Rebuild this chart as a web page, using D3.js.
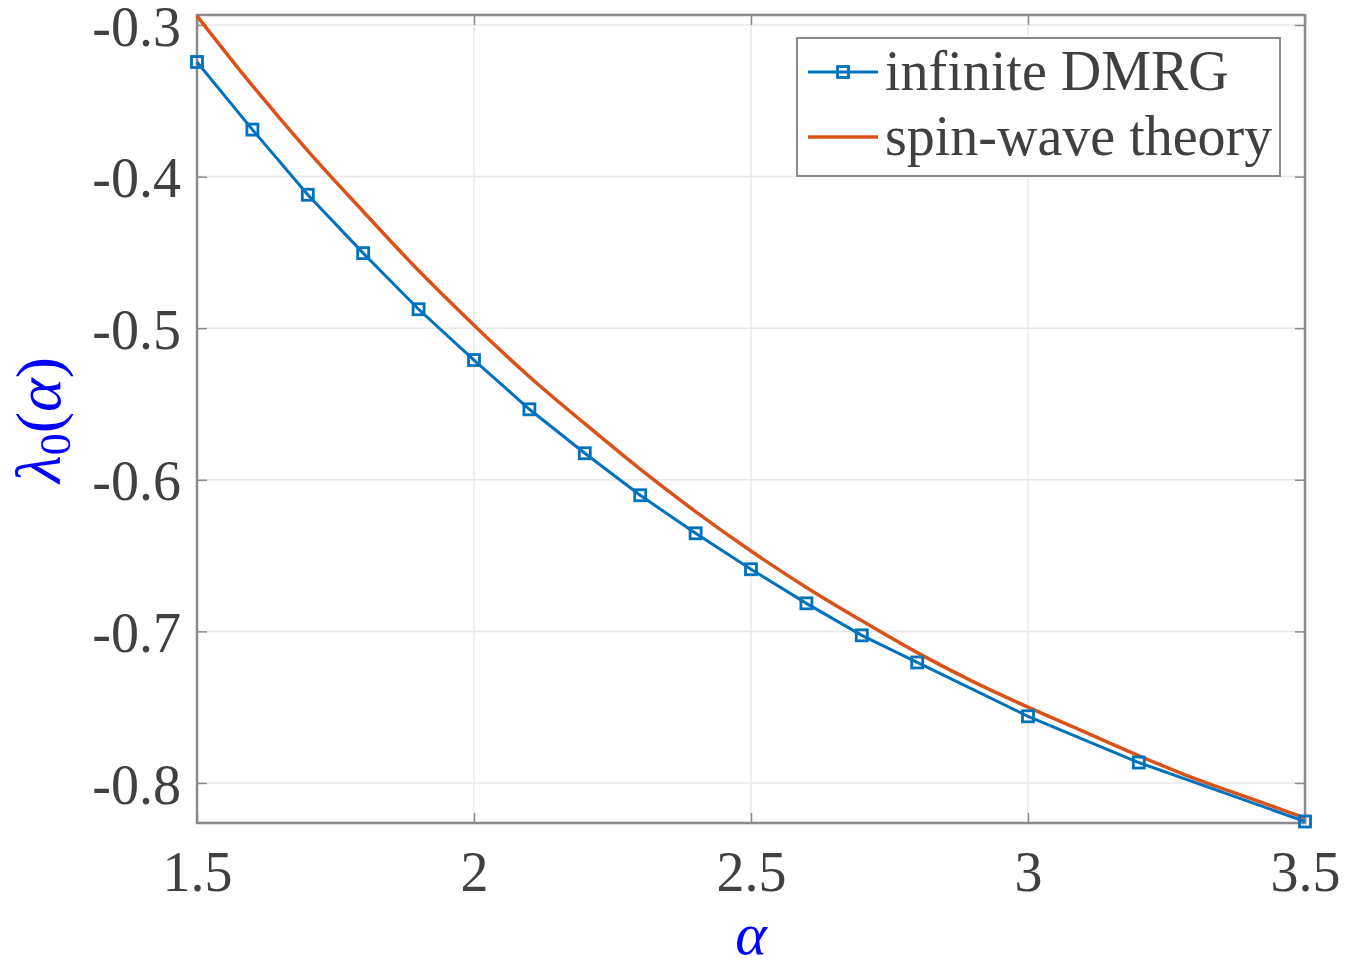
<!DOCTYPE html>
<html>
<head>
<meta charset="utf-8">
<script src="https://cdn.jsdelivr.net/npm/d3@7"></script>
<style>
  body { margin: 0; background: #fff; }
  text { font-family: "Liberation Serif", "Times New Roman", serif; }
</style>
</head>
<body>
<div id="chart"></div>
<script>
// infinite DMRG points
let dmrgAlpha = [1.5, 1.6, 1.7, 1.8, 1.9, 2.0, 2.1, 2.2, 2.3, 2.4, 2.5, 2.6, 2.7, 2.8, 3.0, 3.2, 3.5]
let dmrgValue = [-0.3244, -0.369, -0.412, -0.4505, -0.4875, -0.521, -0.5535, -0.5825, -0.6102,
  -0.6353, -0.659, -0.6815, -0.7026, -0.7205, -0.756, -0.7865, -0.8254]

// spin-wave theory curve
let swAlpha = [1.5, 1.6, 1.7, 1.8, 1.9, 2.0, 2.1, 2.2, 2.3, 2.4, 2.5, 2.6, 2.7, 2.8, 2.9, 3.0, 3.1, 3.2, 3.3, 3.4, 3.5]
let swValue = [-0.294, -0.340, -0.383, -0.423, -0.462, -0.498, -0.532, -0.563, -0.593, -0.621,
  -0.647, -0.671, -0.693, -0.714, -0.733, -0.750, -0.766, -0.782, -0.797, -0.810, -0.823]

let xTicks = [1.5, 2, 2.5, 3, 3.5]
let yTicks = [-0.8, -0.7, -0.6, -0.5, -0.4, -0.3]
let legendNames = ['infinite DMRG', 'spin-wave theory']

let W = 1358, H = 968
let margin = {top: 15, left: 197, right: 53, bottom: 145}
let width = W - margin.left - margin.right,
    height = H - margin.top - margin.bottom

let blue = '#0072BD', orange = '#D95319', axisCol = '#8a8a8a', textCol = '#404040'

let svg = d3.select('#chart').append('svg')
  .attr('width', W).attr('height', H)

let g = svg.append('g').attr('transform', 'translate(' + margin.left + ',' + margin.top + ')')

let x = d3.scaleLinear().domain([1.5, 3.5]).range([0, width])
let y = d3.scaleLinear().domain([-0.8264, -0.2934]).range([height, 0])

// grid
g.selectAll('.gx').data(xTicks).enter().append('line')
  .attr('x1', d => x(d)).attr('x2', d => x(d)).attr('y1', 0).attr('y2', height)
  .attr('stroke', '#e8e8e8').attr('stroke-width', 1.5)
g.selectAll('.gy').data(yTicks).enter().append('line')
  .attr('y1', d => y(d)).attr('y2', d => y(d)).attr('x1', 0).attr('x2', width)
  .attr('stroke', '#e8e8e8').attr('stroke-width', 1.5)

// axes (ticks pointing inward), plain hyphen for minus like the original
let fmt = d => String(d).replace('\u2212', '-')
let xAxis = g.append('g').attr('transform', 'translate(0,' + height + ')')
  .call(d3.axisBottom(x).tickValues(xTicks).tickSizeInner(-10).tickSizeOuter(0).tickPadding(28).tickFormat(fmt))
let yAxis = g.append('g')
  .call(d3.axisLeft(y).tickValues(yTicks).tickSizeInner(-10).tickSizeOuter(0).tickPadding(16).tickFormat(fmt))
let xTop = g.append('g')
  .call(d3.axisTop(x).tickValues(xTicks).tickSizeInner(-10).tickSizeOuter(0).tickFormat(''))
let yRight = g.append('g').attr('transform', 'translate(' + width + ',0)')
  .call(d3.axisRight(y).tickValues(yTicks).tickSizeInner(-10).tickSizeOuter(0).tickFormat(''))

;[xAxis, yAxis, xTop, yRight].forEach(a => {
  a.select('.domain').remove()
  a.selectAll('line').attr('stroke', axisCol).attr('stroke-width', 1.5)
  a.selectAll('text').attr('fill', textCol).style('font-size', '56px')
    .style('font-family', '"Liberation Serif", "Times New Roman", serif')
})
xAxis.selectAll('text').attr('dy', '0.71em')
yAxis.selectAll('text').attr('dy', '0.36em')

g.append('rect').attr('width', width).attr('height', height)
  .attr('fill', 'none').attr('stroke', axisCol).attr('stroke-width', 2.5)

// spin-wave line
let swData = swAlpha.map((a, i) => ({a: a, v: swValue[i]}))
let dmrgData = dmrgAlpha.map((a, i) => ({a: a, v: dmrgValue[i]}))

g.append('path').datum(swData)
  .attr('d', d3.line().curve(d3.curveMonotoneX).x(d => x(d.a)).y(d => y(d.v)))
  .attr('fill', 'none').attr('stroke', orange).attr('stroke-width', 3.5)

g.append('path').datum(dmrgData)
  .attr('d', d3.line().x(d => x(d.a)).y(d => y(d.v)))
  .attr('fill', 'none').attr('stroke', blue).attr('stroke-width', 3)

g.selectAll('.mk').data(dmrgData).enter().append('rect')
  .attr('x', d => x(d.a) - 5.5).attr('y', d => y(d.v) - 5.5)
  .attr('width', 11).attr('height', 11)
  .attr('fill', 'none').attr('stroke', blue).attr('stroke-width', 2.8)

// labels
svg.append('text')
  .attr('transform', 'translate(60,420) rotate(-90)')
  .attr('text-anchor', 'middle')
  .attr('fill', '#0000ff')
  .style('font-size', '64px')
  .html('<tspan font-style="italic">λ</tspan><tspan font-size="44px" dy="10">0</tspan><tspan dy="-10">(</tspan><tspan font-style="italic">α</tspan>)')

svg.append('text')
  .attr('x', margin.left + width / 2).attr('y', 954)
  .attr('text-anchor', 'middle')
  .attr('fill', '#0000ff')
  .style('font-size', '60px').style('font-style', 'italic')
  .text('α')

// legend
let lg = svg.append('g')
lg.append('rect').attr('x', 797).attr('y', 38).attr('width', 483).attr('height', 138)
  .attr('fill', '#fff').attr('stroke', axisCol).attr('stroke-width', 2)

let rows = lg.selectAll('.row').data(legendNames).enter().append('g')
  .attr('transform', (d, i) => 'translate(0,' + (72 + i * 65) + ')')
rows.append('line').attr('x1', 808).attr('x2', 878).attr('y1', 0).attr('y2', 0)
  .attr('stroke', (d, i) => i == 0 ? blue : orange)
  .attr('stroke-width', (d, i) => i == 0 ? 3 : 3.5)
rows.filter((d, i) => i == 0).append('rect')
  .attr('x', 837.5).attr('y', -5.5).attr('width', 11).attr('height', 11)
  .attr('fill', 'none').attr('stroke', blue).attr('stroke-width', 2.8)
rows.append('text').attr('x', 885).attr('y', 0).attr('dy', '0.32em')
  .attr('fill', textCol).style('font-size', '56px')
  .text(d => d)
</script>
</body>
</html>
